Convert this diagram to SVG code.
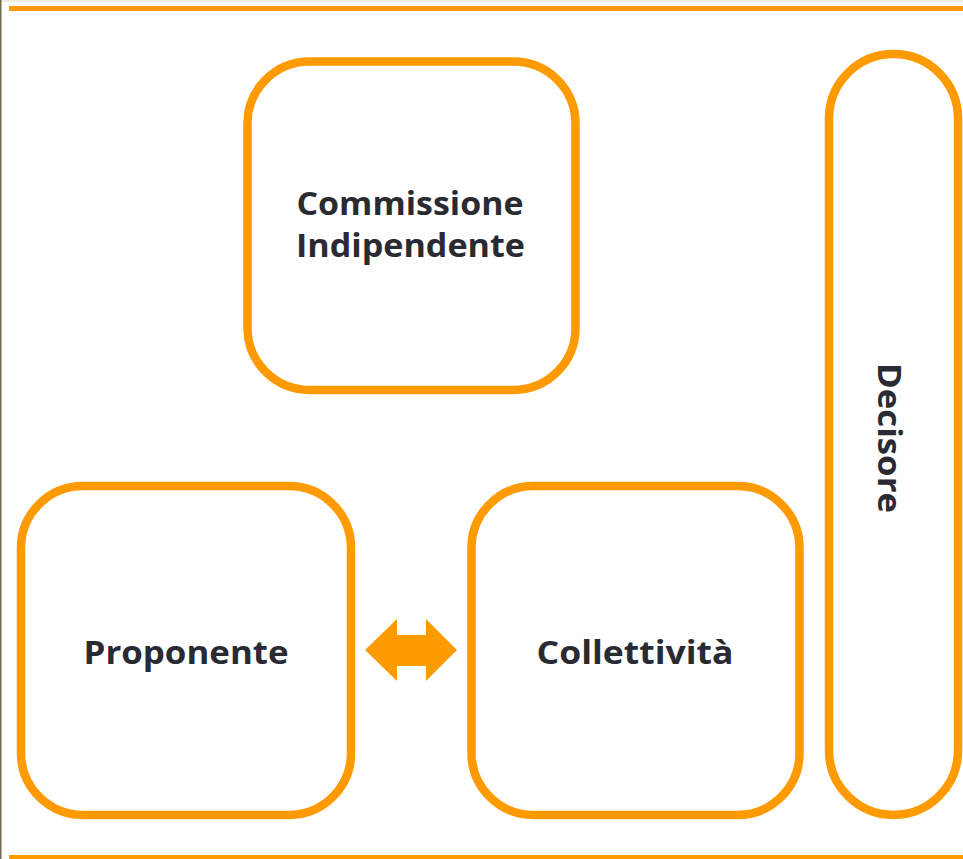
<svg xmlns="http://www.w3.org/2000/svg" width="963" height="859" viewBox="0 0 963 859">
<style>
.box{fill:#ffffff;stroke:#ff9a00;stroke-width:8.5}
.lbl{font-family:"Open Sans","DejaVu Sans",sans-serif;font-weight:700;font-size:32px;fill:#2a2a33;text-anchor:middle}
.rule{fill:#ff9a00}
</style>
<rect x="0" y="0" width="963" height="859" fill="#ffffff"/>
<rect x="0" y="0" width="963" height="2" fill="#eef0dc"/>
<rect x="0" y="0" width="1.5" height="859" fill="#6e6a4e"/>
<rect class="rule" x="9" y="6" width="954" height="5"/>
<rect class="rule" x="9" y="855" width="954" height="4"/>
<g id="node-commissione">
<rect class="box" x="247.5" y="61.5" width="328" height="328.5" rx="62" ry="62"/>
<text class="lbl" x="410" y="215" textLength="227" lengthAdjust="spacingAndGlyphs">Commissione</text>
<text class="lbl" x="410.5" y="257" textLength="229" lengthAdjust="spacingAndGlyphs">Indipendente</text>
</g>
<g id="node-decisore">
<rect class="box" x="829" y="54" width="129" height="761" rx="64.5" ry="64.5"/>
<text class="lbl" transform="translate(878,438) rotate(90)" x="0" y="0" textLength="150" lengthAdjust="spacingAndGlyphs">Decisore</text>
</g>
<g id="node-proponente">
<rect class="box" x="21" y="486" width="330" height="329" rx="62" ry="62"/>
<text class="lbl" x="186" y="664" textLength="205" lengthAdjust="spacingAndGlyphs">Proponente</text>
</g>
<g id="node-collettivita">
<rect class="box" x="471.5" y="486" width="328" height="329" rx="62" ry="62"/>
<text class="lbl" x="635" y="664" textLength="197" lengthAdjust="spacingAndGlyphs">Collettività</text>
</g>
<g id="connectors">
<polygon fill="#ff9a00" points="365,650 397,619 397,635 426,635 426,619 457,650 426,681 426,666 397,666 397,681"/>
</g>
</svg>
